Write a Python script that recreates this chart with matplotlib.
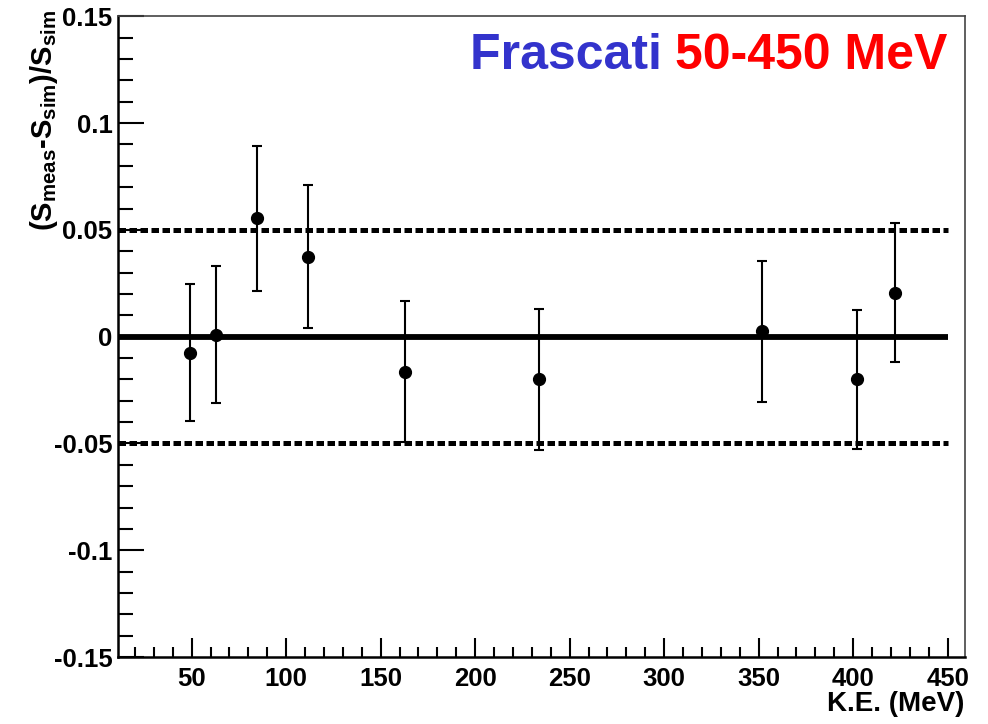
# coding:utf-8
import numpy as np
import matplotlib
matplotlib.use('Agg')
import matplotlib.pyplot as plt
from matplotlib.ticker import MultipleLocator, FuncFormatter

plt.rcParams['font.family'] = ['Liberation Sans', 'DejaVu Sans']
plt.rcParams['font.weight'] = 'bold'
plt.rcParams['mathtext.fontset'] = 'custom'
plt.rcParams['mathtext.rm'] = 'Liberation Sans:bold'
plt.rcParams['mathtext.it'] = 'Liberation Sans:bold'
plt.rcParams['mathtext.bf'] = 'Liberation Sans:bold'

# データ
energy = [49, 63, 84.5, 111.5, 163, 234, 352, 402, 422]
ratio = [-0.0075, 0.001, 0.0555, 0.0375, -0.0165, -0.020, 0.0025, -0.020, 0.0205]
err = [0.032, 0.032, 0.034, 0.0335, 0.033, 0.033, 0.033, 0.0325, 0.0325]
band = [-0.05, 0.0, 0.05]
x_range = [11, 459]
line_end = 450

fig = plt.figure(figsize=(9.88, 7.24), dpi=100)
ax = fig.add_axes([0.1194, 0.0925, 0.857, 0.885])

# 基準線
ax.plot([x_range[0], line_end], [band[1], band[1]], color='black', lw=4.2, solid_capstyle='butt')
for b in (band[0], band[2]):
    ax.plot([x_range[0], line_end], [b, b], color='black', lw=3.6,
            linestyle=(0, (1.5, 0.7)), dash_capstyle='butt')

# データ点
ax.errorbar(energy, ratio, yerr=err, fmt='o', color='black', ms=8.5,
            elinewidth=1.5, capsize=3.5, capthick=1.5)

ax.set_xlim(x_range)
ax.set_ylim(-0.15, 0.15)

ax.xaxis.set_major_locator(MultipleLocator(50))
ax.xaxis.set_minor_locator(MultipleLocator(10))
ax.yaxis.set_major_locator(MultipleLocator(0.05))
ax.yaxis.set_minor_locator(MultipleLocator(0.01))
ax.yaxis.set_major_formatter(FuncFormatter(
    lambda v, p: '0' if abs(v) < 1e-9 else ('%g' % round(v, 2))))

ax.tick_params(axis='both', which='both', direction='in', top=False, right=False,
               labelsize=18.5, width=1.5)
ax.tick_params(axis='y', which='major', length=19, pad=4)
ax.tick_params(axis='y', which='minor', length=11)
ax.tick_params(axis='x', which='major', length=14, pad=7)
ax.tick_params(axis='x', which='minor', length=7)
for lab in ax.get_xticklabels() + ax.get_yticklabels():
    lab.set_fontweight('bold')

for s in ['left', 'bottom']:
    ax.spines[s].set_linewidth(1.8)
for s in ['top', 'right']:
    ax.spines[s].set_linewidth(1.2)
    ax.spines[s].set_color('#444444')

ax.set_xlabel('K.E. (MeV)', fontsize=20, fontweight='bold', loc='right', labelpad=0)
ax.set_ylabel('(S$_\\mathrm{meas}$-S$_\\mathrm{sim}$)/S$_\\mathrm{sim}$',
              fontsize=21, fontweight='bold', loc='top')
ax.yaxis.set_label_coords(-0.069, 1.01)

# タイトル
red = ax.text(0.98, 0.918, '50-450 MeV', transform=ax.transAxes, color='#ff0000',
              fontsize=36, fontweight='bold', ha='right', va='baseline')
ax.annotate('Frascati ', xy=(0, 0), xycoords=red, color='#3333cc',
            fontsize=36, fontweight='bold', ha='right', va='bottom')

fig.savefig('out.png', dpi=100)
